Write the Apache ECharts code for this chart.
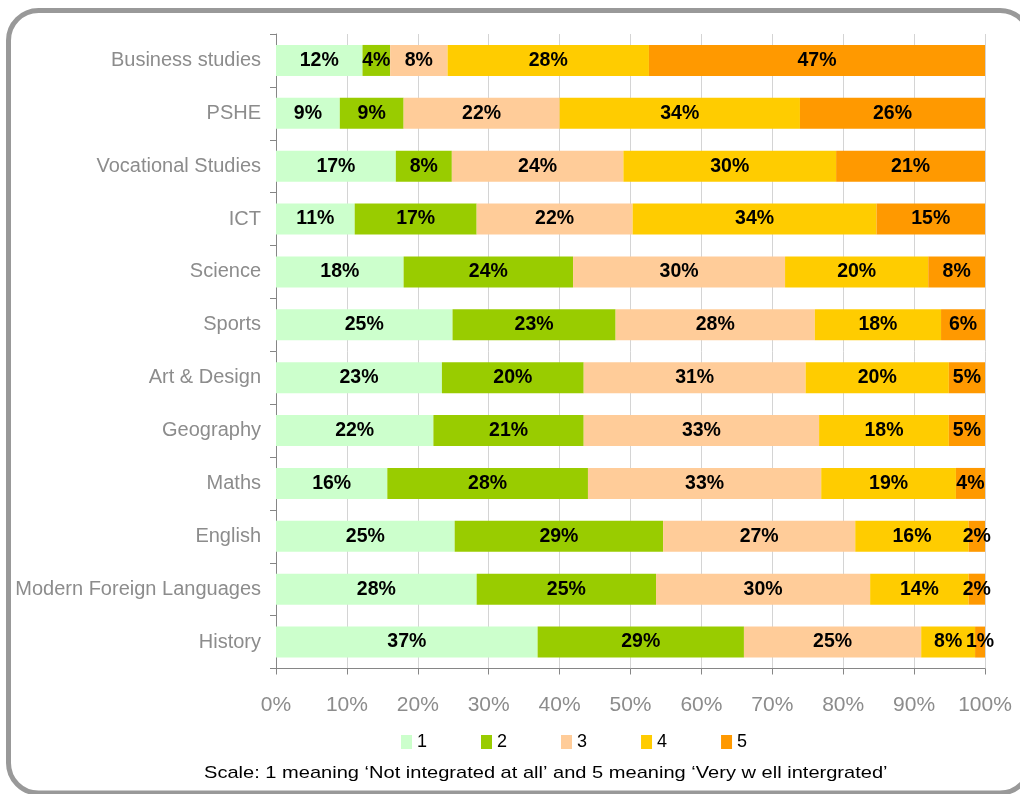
<!DOCTYPE html>
<html>
<head>
<meta charset="utf-8">
<title>Subject integration ratings</title>
<script src="https://cdn.jsdelivr.net/npm/echarts@6/dist/echarts.min.js"></script>
<style>
  html, body { margin: 0; padding: 0; background: #ffffff; }
  #chart { width: 1020px; height: 794px; }
</style>
</head>
<body>
<div id="chart"></div>
<script>
// Subjects, top to bottom
const categories = [
  'Business studies', 'PSHE', 'Vocational Studies', 'ICT', 'Science', 'Sports',
  'Art & Design', 'Geography', 'Maths', 'English', 'Modern Foreign Languages', 'History'
];

// Share of responses (%) for each rating, 1 = not integrated ... 5 = very well integrated
const rating1 = [12.2, 9.0, 16.9, 11.1, 18.0, 24.9, 23.4, 22.2, 15.7, 25.2, 28.3, 36.9];
const rating2 = [3.9, 9.0, 7.9, 17.2, 23.9, 23.0, 20.0, 21.2, 28.3, 29.4, 25.3, 29.1];
const rating3 = [8.1, 22.0, 24.2, 22.0, 29.9, 28.1, 31.3, 33.2, 32.9, 27.1, 30.2, 25.0];
const rating4 = [28.4, 33.9, 30.0, 34.4, 20.2, 17.8, 20.2, 18.3, 19.0, 16.0, 13.9, 7.6];
const rating5 = [47.4, 26.1, 21.0, 15.3, 8.0, 6.2, 5.1, 5.1, 4.1, 2.3, 2.3, 1.4];

const seriesNames = ['1', '2', '3', '4', '5'];
const seriesData = [rating1, rating2, rating3, rating4, rating5];
const seriesColors = ['#CCFFCC', '#99CC00', '#FFCC99', '#FFCC00', '#FF9900'];

const footnote = 'Scale: 1 meaning \u2018Not integrated at all\u2019 and 5 meaning \u2018Very w ell intergrated\u2019';

const FONT = '"Liberation Sans", Arial, sans-serif';

const chart = echarts.init(document.getElementById('chart'), null, { renderer: 'canvas' });

const option = {
  backgroundColor: '#ffffff',
  animation: false,
  textStyle: { fontFamily: FONT },
  grid: { left: 276, right: 35, top: 34, bottom: 125.5, containLabel: false },
  legend: {
    data: seriesNames,
    left: 396,
    top: 728,
    itemWidth: 11,
    itemHeight: 14,
    itemGap: 54,
    icon: 'rect',
    textStyle: { fontFamily: FONT, fontSize: 18, color: '#000000' }
  },
  xAxis: {
    type: 'value',
    min: 0,
    max: 100,
    interval: 10,
    axisLine: { show: true, lineStyle: { color: '#868686', width: 1 } },
    axisTick: { show: true, length: 6, lineStyle: { color: '#868686' } },
    splitLine: { show: true, lineStyle: { color: '#d4d4d4', width: 1 } },
    axisLabel: {
      formatter: '{value}%',
      fontFamily: FONT,
      fontSize: 21,
      color: '#8c8c8c',
      margin: 26
    }
  },
  yAxis: {
    type: 'category',
    data: categories,
    inverse: true,
    axisLine: { show: true, lineStyle: { color: '#868686', width: 1 } },
    axisTick: { show: true, length: 6, lineStyle: { color: '#868686' } },
    splitLine: { show: false },
    axisLabel: {
      fontFamily: FONT,
      fontSize: 20,
      color: '#8c8c8c',
      margin: 15
    }
  },
  series: seriesNames.map((name, i) => ({
    name: name,
    type: 'bar',
    stack: 'total',
    barWidth: 31,
    data: seriesData[i],
    itemStyle: { color: seriesColors[i] },
    label: {
      show: true,
      position: 'inside',
      formatter: p => Math.round(p.value) + '%',
      fontFamily: FONT,
      fontWeight: 'bold',
      fontSize: 19.5,
      color: '#000000'
    }
  })),
  graphic: [
    {
      type: 'rect',
      shape: { x: 8.5, y: 10.5, width: 1021.5, height: 782.5, r: 30 },
      style: { fill: null, stroke: '#999999', lineWidth: 5 },
      silent: true,
      z: 100
    },
    {
      // footnote, drawn slightly widened like the rest of the lettering
      type: 'text',
      x: 204,
      y: 773,
      scaleX: 1.18,
      style: {
        x: 0,
        y: 0,
        text: footnote,
        fontFamily: FONT,
        fontSize: 17,
        fill: '#000000',
        align: 'left',
        verticalAlign: 'middle'
      },
      silent: true
    }
  ]
};

chart.setOption(option);
</script>
</body>
</html>
